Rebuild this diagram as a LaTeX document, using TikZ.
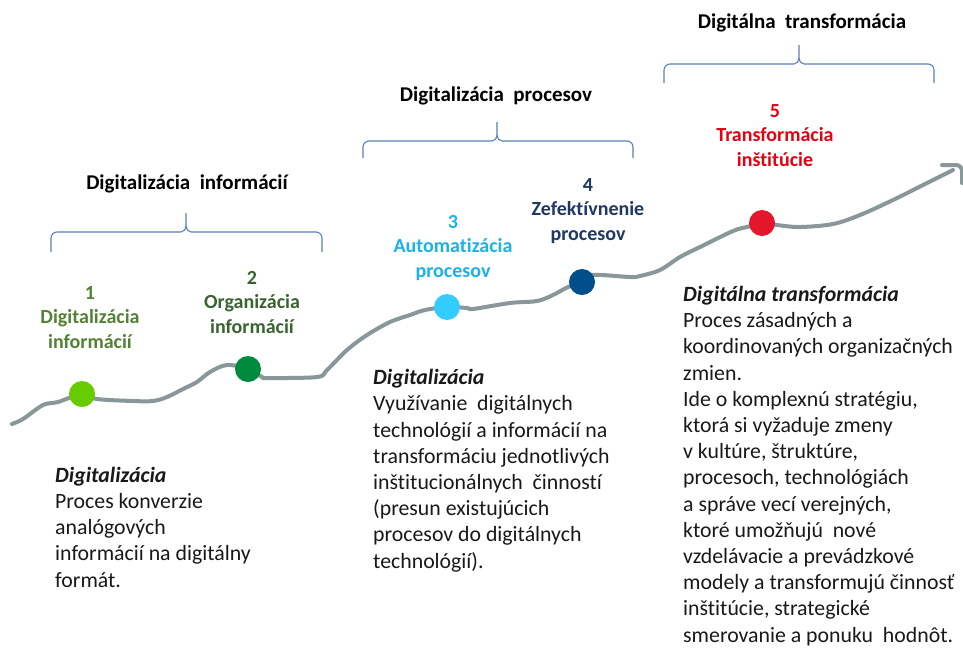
\documentclass[tikz,border=0pt]{standalone}
\usepackage{fontspec}
\setmainfont{Carlito}[Ligatures=NoCommon]
\definecolor{roadgray}{RGB}{138,151,153}
\definecolor{bracecol}{RGB}{91,127,185}
\definecolor{dotA}{RGB}{102,204,0}
\definecolor{dotB}{RGB}{0,138,62}
\definecolor{dotC}{RGB}{51,204,255}
\definecolor{dotD}{RGB}{0,79,138}
\definecolor{dotE}{RGB}{227,22,43}
\definecolor{labA}{RGB}{84,130,53}
\definecolor{labB}{RGB}{56,100,45}
\definecolor{labC}{RGB}{29,177,236}
\definecolor{labD}{RGB}{31,56,100}
\definecolor{labE}{RGB}{230,0,18}
\definecolor{bodytext}{RGB}{25,25,25}
\newcommand\mybracepath[6]{%
  \draw[bracelines] (#1,#6) -- (#1,#5+6) to[out=90,in=180] (#1+6,#5) -- (#3-5,#5)
    to[out=0,in=-90] (#3,#5-6) -- (#3,#4) -- (#3,#5-6) to[out=-90,in=180] (#3+5,#5)
    -- (#2-6,#5) to[out=0,in=90] (#2,#5+6) -- (#2,#6);}
\begin{document}
\begin{tikzpicture}[x=1pt,y=-1pt,
  bracelines/.style={draw=bracecol,line width=1.1pt},
  road/.style={draw=roadgray,line width=4pt,line cap=round,line join=round},
  stepdot/.style={circle,inner sep=0pt,minimum size=26pt},
  steplabel/.style={align=center,anchor=base,font=\fontsize{20}{24.5}\selectfont\bfseries,inner sep=0pt},
  header/.style={anchor=base,font=\fontsize{21}{25}\selectfont\bfseries,inner sep=0pt,text=black},
  bodyblock/.style={align=left,anchor=base west,font=\fontsize{21.8}{26.2}\selectfont,inner sep=0pt,text=bodytext}]
\useasboundingbox[fill=white] (0,0) rectangle (963,649);

% road
\draw[road] plot[smooth,tension=0.55] coordinates {
  (12,424) (23,419) (43,405) (58,402) (82,394) (97,399) (133,401) (153,401) (167,397)
  (183,389) (197,382) (210,372) (227,365) (248,369) (262,377) (267,378) (317,377)
  (327,370) (347,350) (367,335) (390,322) (410,315) (425,310) (447,307) (467,308)
  (473,309) (510,303) (537,301) (553,295) (568,287) (582,282) (593,275) (630,277)
  (640,276) (660,270) (680,257) (700,247) (733,231) (747,227) (762,223) (777,225)
  (800,227) (833,224) (860,215) (893,200) (927,183) (953,170)};
\draw[road] (942,165) -- (956,165) to[out=0,in=90] (962,171) -- (962,183);

% dots
\node[stepdot,fill=dotA] (d1) at (82,394) {};
\node[stepdot,fill=dotB] (d2) at (248,369) {};
\node[stepdot,fill=dotC] (d3) at (447,307) {};
\node[stepdot,fill=dotD] (d4) at (582,282) {};
\node[stepdot,fill=dotE] (d5) at (762,223) {};

% step labels (anchor = baseline of last line)
\node[steplabel,text=labA] (l1) at (90,348) {1\\Digitalizácia\\informácií};
\node[steplabel,text=labB] (l2) at (252,333) {2\\Organizácia\\informácií};
\node[steplabel,text=labC] (l3) at (453,277) {3\\Automatizácia\\procesov};
\node[steplabel,text=labD] (l4) at (588,240) {4\\Zefektívnenie\\procesov};
\node[steplabel,text=labE] (l5) at (775,166) {5\\Transformácia\\inštitúcie};

% braces
\mybracepath{51}{322}{186}{213}{232}{252}
\mybracepath{363}{633}{497}{122}{141}{158}
\mybracepath{664}{934}{799}{45}{64}{83}

% headers
\node[header] (h1) at (187,189) {Digitalizácia\ \ informácií};
\node[header] (h2) at (496,101) {Digitalizácia\ \ procesov};
\node[header] (h3) at (802,28) {Digitálna\ \ transformácia};

% body texts (anchor = baseline of last line)
\node[bodyblock] (b1) at (55,587) {\textbf{\textit{Digitalizácia}}\\Proces konverzie\\analógových\\informácií na digitálny\\formát.};
\node[bodyblock] (b2) at (373,568) {\textbf{\textit{Digitalizácia}}\\Využívanie\ \ digitálnych\\technológií a informácií na\\transformáciu jednotlivých\\inštitucionálnych\ \ činností\\(presun existujúcich\\procesov do digitálnych\\technológií).};
\node[bodyblock] (b3) at (683,642) {\textbf{\textit{Digitálna transformácia}}\\Proces zásadných a\\koordinovaných organizačných\\zmien.\\Ide o komplexnú stratégiu,\\ktorá si vyžaduje zmeny\\v kultúre, štruktúre,\\procesoch, technológiách\\a správe vecí verejných,\\ktoré umožňujú\ \ nové\\vzdelávacie a prevádzkové\\modely a transformujú činnosť\\inštitúcie, strategické\\smerovanie a ponuku\ \ hodnôt.};
\end{tikzpicture}
\end{document}
